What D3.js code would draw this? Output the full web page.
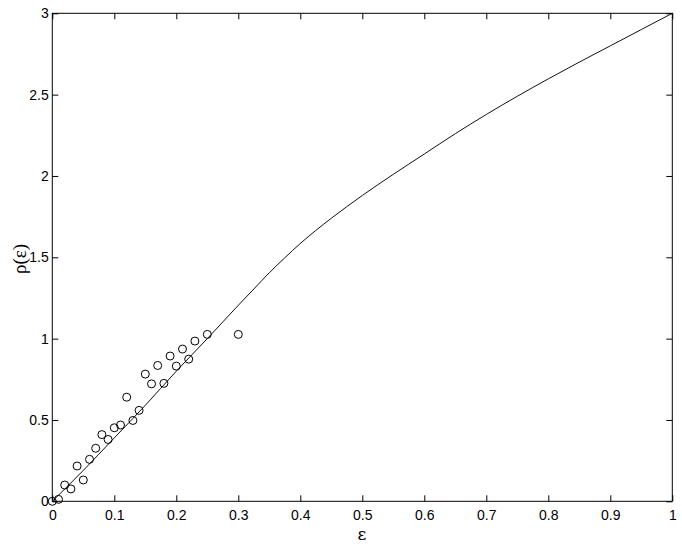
<!DOCTYPE html>
<html>
<head>
<meta charset="utf-8">
<script src="https://d3js.org/d3.v7.min.js"></script>
<style>
  body { margin: 0; background: #fff; }
  svg { display: block; }
</style>
</head>
<body>
<svg id="chart" width="682" height="547"></svg>
<script>
// measured points (circles)
var epsPts = [0, 0.01, 0.02, 0.03, 0.04, 0.05, 0.06, 0.07, 0.08, 0.09, 0.10, 0.11, 0.12, 0.13,
              0.14, 0.15, 0.16, 0.17, 0.18, 0.19, 0.20, 0.21, 0.22, 0.23, 0.25, 0.30];
var rhoPts = [0, 0.012, 0.10, 0.076, 0.217, 0.131, 0.258, 0.326, 0.41, 0.38, 0.452, 0.469, 0.64, 0.497,
              0.559, 0.782, 0.722, 0.835, 0.725, 0.893, 0.831, 0.936, 0.874, 0.985, 1.026, 1.026];

// theory curve
var epsCurve = [0, 0.05, 0.1, 0.15, 0.2, 0.25, 0.3, 0.325, 0.35, 0.375, 0.4, 0.425, 0.45, 0.5,
                0.55, 0.6, 0.65, 0.7, 0.75, 0.8, 0.85, 0.9, 0.95, 1.0];
var rhoCurve = [0, 0.19, 0.39, 0.59, 0.80, 1.0, 1.205, 1.305, 1.405, 1.497, 1.585, 1.665, 1.74, 1.88,
                2.01, 2.135, 2.26, 2.378, 2.49, 2.597, 2.70, 2.80, 2.90, 3.0];

var xTicks = [0, 0.1, 0.2, 0.3, 0.4, 0.5, 0.6, 0.7, 0.8, 0.9, 1];
var yTicks = [0, 0.5, 1, 1.5, 2, 2.5, 3];

var svg = d3.select("#chart");
var mLeft = 52.3, mRight = 672.3, mTop = 13.3, mBottom = 501.3;

var x = d3.scaleLinear().domain([0, 1]).range([mLeft, mRight]);
var y = d3.scaleLinear().domain([0, 3]).range([mBottom, mTop]);

var fmt = function(d) { return String(d); };

// axes with inward ticks
svg.append("g").attr("transform", "translate(0," + mBottom + ")")
  .call(d3.axisBottom(x).tickValues(xTicks).tickFormat(fmt).tickSize(-6).tickPadding(8.5));
svg.append("g").attr("transform", "translate(0," + mTop + ")")
  .call(d3.axisTop(x).tickValues(xTicks).tickFormat("").tickSize(-6));
svg.append("g").attr("transform", "translate(" + mLeft + ",0)")
  .call(d3.axisLeft(y).tickValues(yTicks).tickFormat(fmt).tickSize(-6).tickPadding(3.5));
svg.append("g").attr("transform", "translate(" + mRight + ",0)")
  .call(d3.axisRight(y).tickValues(yTicks).tickFormat("").tickSize(-6));
svg.selectAll(".domain").remove();
svg.selectAll(".tick text")
  .attr("font-family", "'Liberation Sans', Arial, sans-serif")
  .attr("font-size", 14)
  .attr("fill", "#000");
svg.selectAll(".tick line").attr("stroke", "#000");

// frame
svg.append("rect")
  .attr("x", mLeft).attr("y", mTop)
  .attr("width", mRight - mLeft).attr("height", mBottom - mTop)
  .attr("fill", "none").attr("stroke", "#000").attr("stroke-width", 1);

// curve
var line = d3.line()
  .x(function(d, i) { return x(epsCurve[i]); })
  .y(function(d, i) { return y(rhoCurve[i]); })
  .curve(d3.curveMonotoneX);
svg.append("path")
  .attr("d", line(epsCurve))
  .attr("fill", "none").attr("stroke", "#111").attr("stroke-width", 1);

// circles
svg.selectAll("circle.pt").data(epsPts).enter().append("circle")
  .attr("class", "pt")
  .attr("cx", function(d) { return x(d); })
  .attr("cy", function(d, i) { return y(rhoPts[i]); })
  .attr("r", 4)
  .attr("fill", "none").attr("stroke", "#000").attr("stroke-width", 1);

// axis labels
svg.append("text")
  .attr("x", 362).attr("y", 540)
  .attr("text-anchor", "middle")
  .attr("font-family", "'DejaVu Serif', 'Liberation Serif', serif")
  .attr("font-size", 17)
  .text("ε");
svg.append("text")
  .attr("transform", "translate(26,259) rotate(-90)")
  .attr("text-anchor", "middle")
  .attr("font-family", "'Liberation Serif', 'DejaVu Serif', serif")
  .attr("font-size", 19)
  .text("ρ(ε)");
</script>
</body>
</html>
